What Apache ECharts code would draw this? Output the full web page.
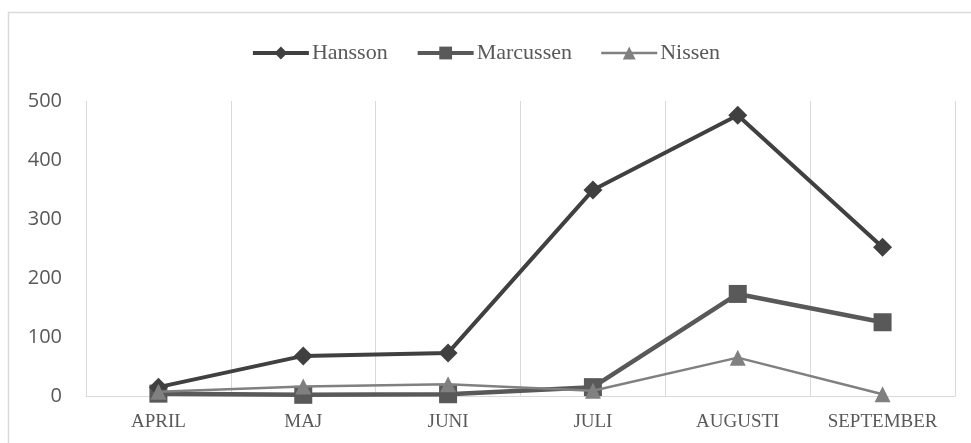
<!DOCTYPE html>
<html><head><meta charset="utf-8">
<script src="https://cdn.jsdelivr.net/npm/echarts@6/dist/echarts.min.js"></script>
<style>html,body{margin:0;padding:0;background:#fff}#c{width:971px;height:443px}</style>
</head><body><div id="c"></div>
<script>
const categories = ['APRIL','MAJ','JUNI','JULI','AUGUSTI','SEPTEMBER'];
const hansson = [15, 68, 73, 349, 476, 252];
const marcussen = [4, 2, 3, 15, 173, 125];
const nissen = [7, 16, 20, 9, 65, 3];
const yTicks = [0, 100, 200, 300, 400, 500];

const chart = echarts.init(document.getElementById('c'));
chart.setOption({
  animation: false,
  backgroundColor: '#fff',
  graphic: [{type:'rect', shape:{x:8.5,y:12.5,width:975,height:440}, style:{fill:'none', stroke:'#d9d9d9', lineWidth:1.5}, silent:true}],
  legend: {
    top: 37, left: 'center', itemGap: 28, itemWidth: 56, itemHeight: 16,
    textStyle: {fontFamily:'Liberation Serif', fontSize:22, color:'#595959', padding:[0,0,0,-2]},
    data: [
      {name:'Hansson', lineStyle:{width:4}},
      {name:'Marcussen', lineStyle:{width:4}},
      {name:'Nissen', lineStyle:{width:2.5}}
    ]
  },
  grid: {left: 86, right: 16, top: 101, bottom: 47},
  xAxis: {
    type:'category', data: categories, boundaryGap: true,
    axisLine:{lineStyle:{color:'#d9d9d9', width:1}},
    axisTick:{show:false},
    splitLine:{show:true, lineStyle:{color:'#d9d9d9', width:1}},
    axisLabel:{fontFamily:'Liberation Serif', fontSize:19, color:'#595959', margin:17, interval:0}
  },
  yAxis: {
    type:'value', min:0, max:500, interval:100,
    axisLine:{show:false}, axisTick:{show:false},
    splitLine:{show:false},
    axisLabel:{fontFamily:'Open Sans', fontSize:20, color:'#595959', margin:24,
      formatter: v => yTicks.includes(v) ? String(v) : ''}
  },
  series: [
    {name:'Hansson', type:'line', data: hansson, symbol:'diamond', symbolSize:19,
     lineStyle:{color:'#404040', width:4}, itemStyle:{color:'#404040'}, z:3},
    {name:'Marcussen', type:'line', data: marcussen, symbol:'rect', symbolSize:18,
     lineStyle:{color:'#595959', width:4.5}, itemStyle:{color:'#595959'}, z:2},
    {name:'Nissen', type:'line', data: nissen, symbol:'triangle', symbolSize:16,
     lineStyle:{color:'#808080', width:2.5}, itemStyle:{color:'#808080'}, z:4}
  ]
});
</script></body></html>
